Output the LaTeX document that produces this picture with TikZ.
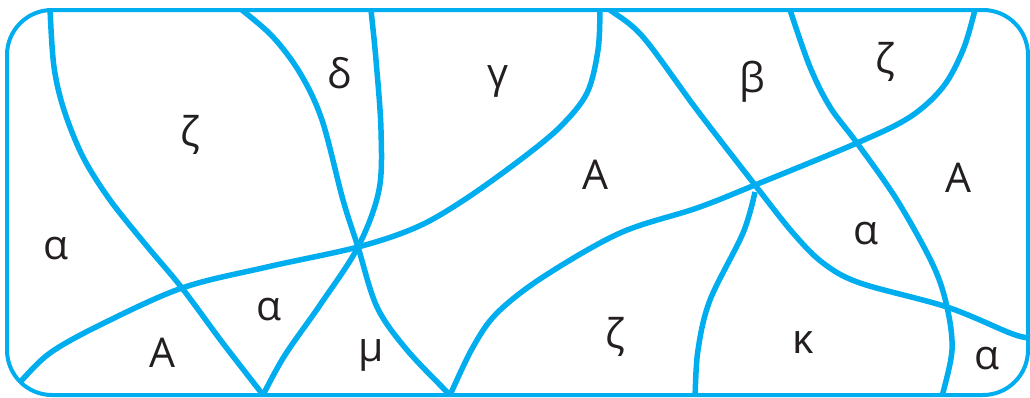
\documentclass[tikz,border=0pt]{standalone}
\usepackage{fontspec}
\setmainfont{Open Sans}
\definecolor{cyanline}{RGB}{0,174,239}
\definecolor{ink}{RGB}{35,31,32}
\begin{document}
\begin{tikzpicture}[x=1pt,y=-1pt,
  border/.style={draw=cyanline,line width=4pt},
  curve/.style={draw=cyanline,line width=5.5pt,smooth,tension=0.55},
  lab/.style={text=ink,font=\fontsize{41}{45}\selectfont,inner sep=0pt}]
\useasboundingbox (0,0) rectangle (1030,397);
\begin{scope}
\clip[rounded corners=45pt] (7,10) rectangle (1028,395);
% C1
\draw[curve] plot coordinates {(50,0) (50,10) (54,67) (64,110) (83,157) (110,200) (146,245) (182,288) (222,342) (263,395) (267,402)};
% C2
\draw[curve] plot coordinates {(235,5) (242,10) (273,37) (300,73) (322,120) (343,200) (358,247) (377,307) (407,350) (450,395) (455,400)};
% C3
\draw[curve] plot coordinates {(370,0) (371,10) (376,60) (381,130) (379,190) (358,247) (320,305) (285,355) (263,395) (260,402)};
% C4
\draw[curve] plot coordinates {(10,392) (20,382) (50,353) (100,325) (182,288) (267,267) (358,247) (417,227) (464,200) (520,160) (560,127) (587,93) (598,50) (600,10) (600,0)};
% C5
\draw[curve] plot coordinates {(603,5) (610,10) (643,37) (697,110) (755,185) (793,233) (823,263) (860,283) (947,307) (1010,333) (1028,338) (1036,340)};
% C6
\draw[curve] plot coordinates {(695,402) (695,397) (698,350) (710,300) (743,233) (755,192)};
% C7/C8
\draw[curve] plot coordinates {(447,402) (450,395) (473,347) (497,313) (543,277) (620,233) (697,208) (755,185) (857,143) (910,117) (943,87) (963,50) (975,10) (976,3)};
% C9
\draw[curve] plot coordinates {(788,3) (790,10) (810,67) (830,107) (857,143) (897,200) (933,265) (947,307) (952,350) (942,397) (941,403)};
\end{scope}
\draw[border,rounded corners=45pt] (7,10) rectangle (1028,395);
% labels
\node[lab] (z1) at (190,135) {ζ};
\node[lab] (d1) at (339,73) {δ};
\node[lab] (g1) at (498,81) {γ};
\node[lab] (b1) at (752,82) {β};
\node[lab] (z2) at (885,62) {ζ};
\node[lab] (A1) at (595,175) {A};
\node[lab] (A2) at (958,178) {A};
\node[lab] (a1) at (56,249) {α};
\node[lab] (a2) at (269,310) {α};
\node[lab] (A3) at (162,353) {A};
\node[lab] (m1) at (371,355) {μ};
\node[lab] (a3) at (866,234) {α};
\node[lab] (z3) at (615,337) {ζ};
\node[lab] (k1) at (803,343) {κ};
\node[lab] (a4) at (987,359) {α};
\end{tikzpicture}
\end{document}
